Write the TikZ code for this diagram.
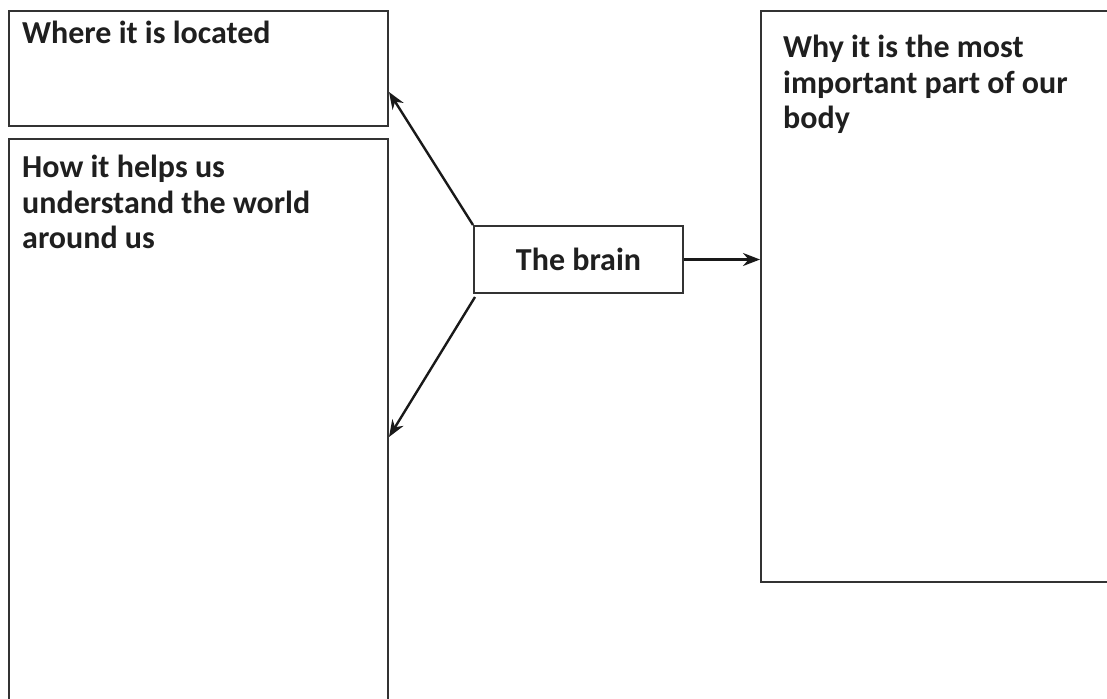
\documentclass[tikz,border=0pt]{standalone}
\usepackage{fontspec}
\setmainfont{Carlito}
\usetikzlibrary{arrows.meta}
\begin{document}
\begin{tikzpicture}[x=1pt,y=-1pt,
  box/.style={draw=black!80, line width=2pt, rectangle, inner sep=0pt, anchor=north west},
  txt/.style={anchor=north west, align=left, inner sep=0pt, font=\bfseries\fontsize{32}{35.5}\selectfont, text=black!88},
  arr/.style={draw=black!90, line width=2.4pt, -{Stealth[length=17pt,width=13pt]}}]
\useasboundingbox (0,0) rectangle (1107,698);
\node[box, minimum width=379pt, minimum height=115pt] (loc) at (8,10) {};
\node[box, minimum width=379pt, minimum height=580pt] (how) at (8,138) {};
\node[box, minimum width=352pt, minimum height=571pt] (why) at (760,10) {};
\node[box, minimum width=209pt, minimum height=67pt, anchor=center, font=\bfseries\fontsize{32}{36}\selectfont, text=black!88] (brain) at (578.5,259.5) {The brain};
\node[txt] (loct) at (22,21) {Where it is located};
\node[txt] (howt) at (22,155) {How it helps us\\understand the world\\around us};
\node[txt] (whyt) at (783,35) {Why it is the most\\important part of our\\body};
\coordinate (locend) at ([yshift=35pt]loc.south east);
\coordinate (howend) at ([yshift=-299pt]how.north east);
\draw[arr] (brain.north west) -- (locend);
\draw[arr] ([xshift=2pt,yshift=-3pt]brain.south west) -- (howend);
\draw[arr] (brain.east) -- (brain.east -| why.west);
\end{tikzpicture}
\end{document}
